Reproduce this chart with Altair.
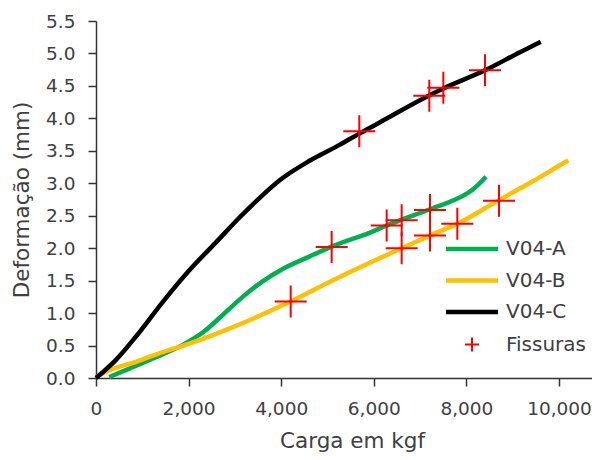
import altair as alt
import pandas as pd

FONT = "DejaVu Sans"
TEXT = "#404040"

series = ["V04-A", "V04-B", "V04-C"]

a_x = [288, 720, 1296, 1872, 2304, 2736, 3168, 3600, 4032, 4607, 5076, 5918, 6278, 6602, 7214, 8006, 8150, 8423]
a_y = [0.015, 0.145, 0.32, 0.51, 0.70, 0.97, 1.25, 1.49, 1.68, 1.87, 2.02, 2.24, 2.35, 2.44, 2.60, 2.84, 2.91, 3.10]

b_x = [0, 288, 864, 1440, 2016, 2592, 3312, 4175, 5184, 6602, 7214, 7804, 8704, 9700, 9950, 10201]
b_y = [0.015, 0.12, 0.25, 0.40, 0.53, 0.68, 0.89, 1.17, 1.53, 2.00, 2.195, 2.375, 2.74, 3.14, 3.25, 3.35]

c_x = [0, 432, 864, 1440, 2016, 2592, 3110, 3542, 3974, 4622, 5270, 5687, 6134, 7214, 7501, 8402, 9158, 9605]
c_y = [0, 0.28, 0.64, 1.17, 1.66, 2.09, 2.48, 2.78, 3.05, 3.35, 3.595, 3.765, 3.94, 4.36, 4.46, 4.74, 5.02, 5.18]

crack_x = [4205, 5090, 5687, 6278, 6602, 6602, 7214, 7214, 7199, 7502, 7804, 8402, 8704]
crack_y = [1.18, 2.02, 3.80, 2.35, 2.43, 2.00, 2.59, 2.195, 4.35, 4.47, 2.375, 4.74, 2.73]

legend_order = ["V04-A", "V04-B", "V04-C", "Fissuras"]
colors = ["#00B050", "#FFC000", "#000000", "#FF0000"]

x_ticks = [0, 2000, 4000, 6000, 8000, 10000]
y_ticks = [0.0, 0.5, 1.0, 1.5, 2.0, 2.5, 3.0, 3.5, 4.0, 4.5, 5.0, 5.5]

rows = []
for name, xs, ys in zip(series, [a_x, b_x, c_x], [a_y, b_y, c_y]):
    for xv, yv in zip(xs, ys):
        rows.append({"carga": xv, "def": yv, "serie": name})
lines_df = pd.DataFrame(rows)
cracks_df = pd.DataFrame({"carga": crack_x, "def": crack_y, "serie": ["Fissuras"] * len(crack_x)})

CROSS = "M-1,0H1M0,-1V1"
is_f = "datum.value === 'Fissuras'"

legend = alt.Legend(
    title=None, orient="none", legendX=366, legendY=218,
    labelFont=FONT, labelFontSize=20, labelColor=TEXT, labelOffset=24,
    symbolType={"expr": f"{is_f} ? '{CROSS}' : 'M-2,0H2'"},
    symbolSize={"expr": f"{is_f} ? 196 : 676"},
    symbolStrokeWidth={"expr": f"{is_f} ? 2 : 4.5"},
    symbolFillColor="transparent",
    rowPadding=11.5,
)

color = alt.Color("serie:N", scale=alt.Scale(domain=legend_order, range=colors), legend=legend)

x_enc = alt.X("carga:Q", scale=alt.Scale(domain=[0, 10713], nice=False),
              axis=alt.Axis(values=x_ticks, tickCount=len(x_ticks), format=",d",
                            title="Carga em kgf", titleX=256))
y_enc = alt.Y("def:Q", scale=alt.Scale(domain=[0, 5.5], nice=False),
              axis=alt.Axis(values=y_ticks, tickCount=len(y_ticks), format=".1f",
                            title="Deformação (mm)"))

lines = alt.Chart(lines_df).mark_line(strokeWidth=4.5, interpolate="monotone").encode(
    x=x_enc, y=y_enc, color=color, detail="serie:N"
)
points = alt.Chart(cracks_df).mark_point(shape=CROSS, size=1024, filled=False, strokeWidth=2, opacity=1).encode(
    x="carga:Q", y="def:Q", color=color
)

chart = alt.layer(lines, points).properties(
    width=496, height=357,
    autosize=alt.AutoSizeParams(type="none"),
    padding={"left": 88, "top": 13, "right": 0, "bottom": 74},
).configure_view(stroke=None).configure_axis(
    grid=False, domainColor="#333333", domainWidth=1.5, tickColor="#333333", tickWidth=1.5,
    tickSize=8, labelFont=FONT, labelFontSize=18.5, labelColor=TEXT, labelPadding=13,
    labelOverlap=False, labelFlush=False,
    titleFont=FONT, titleFontSize=21.5, titleFontWeight="normal", titleColor=TEXT,
).configure_axisX(titlePadding=13).configure_axisY(titlePadding=12)

chart.save("out.html", embed_options={"renderer": "svg", "actions": False})
